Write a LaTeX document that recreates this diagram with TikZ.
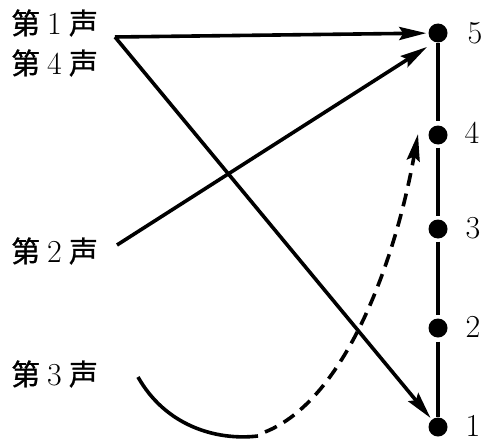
\documentclass[tikz,border=0pt]{standalone}
\usepackage{fontspec}
\newfontfamily\cjk[FakeBold=1]{Noto Sans CJK SC}
\usetikzlibrary{arrows.meta}
\newcommand{\dig}[1]{{\fontsize{32}{32}\selectfont #1}}
\begin{document}
\begin{tikzpicture}[x=1pt,y=-1pt,
  dot/.style={circle,fill=black,inner sep=0pt,minimum size=19pt},
  tone/.style={inner sep=0pt,anchor=west,font=\fontsize{29}{29}\selectfont},
  num/.style={inner sep=0pt,font=\fontsize{32}{32}\selectfont},
  conn/.style={line width=3.6pt},
  arr/.style={conn,-{Stealth[length=27pt,width=13pt,inset=4pt]}},
  seg/.style={line width=3.6pt,shorten <=3pt,shorten >=3pt}]
\useasboundingbox (0,0) rectangle (484,444);
% left labels
\node[tone] (l1) at (11,23) {{\cjk 第}\hspace{7pt}\dig{1}\hspace{7pt}{\cjk 声}};
\node[tone] (l4) at (11,63) {{\cjk 第}\hspace{7pt}\dig{4}\hspace{7pt}{\cjk 声}};
\node[tone] (l2) at (11,251) {{\cjk 第}\hspace{7pt}\dig{2}\hspace{7pt}{\cjk 声}};
\node[tone] (l3) at (11,374) {{\cjk 第}\hspace{7pt}\dig{3}\hspace{7pt}{\cjk 声}};
% pitch dots
\node[dot] (d5) at (438,33) {};
\node[dot] (d4) at (438,135) {};
\node[dot] (d3) at (438,229) {};
\node[dot] (d2) at (438,328) {};
\node[dot] (d1) at (438,427) {};
\node[num] (n5) at (475,33) {5};
\node[num] (n4) at (472,133) {4};
\node[num] (n3) at (473,228) {3};
\node[num] (n2) at (473,327) {2};
\node[num] (n1) at (473,426) {1};
% scale line
\draw[conn,shorten >=4pt] (d5) -- (d4);
\draw[seg] (d4) -- (d3);
\draw[seg] (d3) -- (d2);
\draw[conn,shorten <=4pt] (d2) -- (d1);
% start/end points
\coordinate (s14) at (115,37);
\coordinate (s2) at (117,245);
\coordinate (t5) at (427,47);
\coordinate (s3) at (138,377);
\coordinate (b3) at (258,436);
\coordinate (m3) at (265,432);
\coordinate (t4) at (418,134);
% arrows
\draw[arr,shorten >=2pt] (s14) -- (d5);
\draw[arr,shorten >=2pt] (s14) -- (d1);
\draw[arr] (s2) -- (t5);
\draw[conn] (s3) .. controls (165,425) and (215,441) .. (b3);
\draw[arr,dash pattern=on 13pt off 8pt] (m3) .. controls (345,400) and (395,262) .. (t4);
\end{tikzpicture}
\end{document}
